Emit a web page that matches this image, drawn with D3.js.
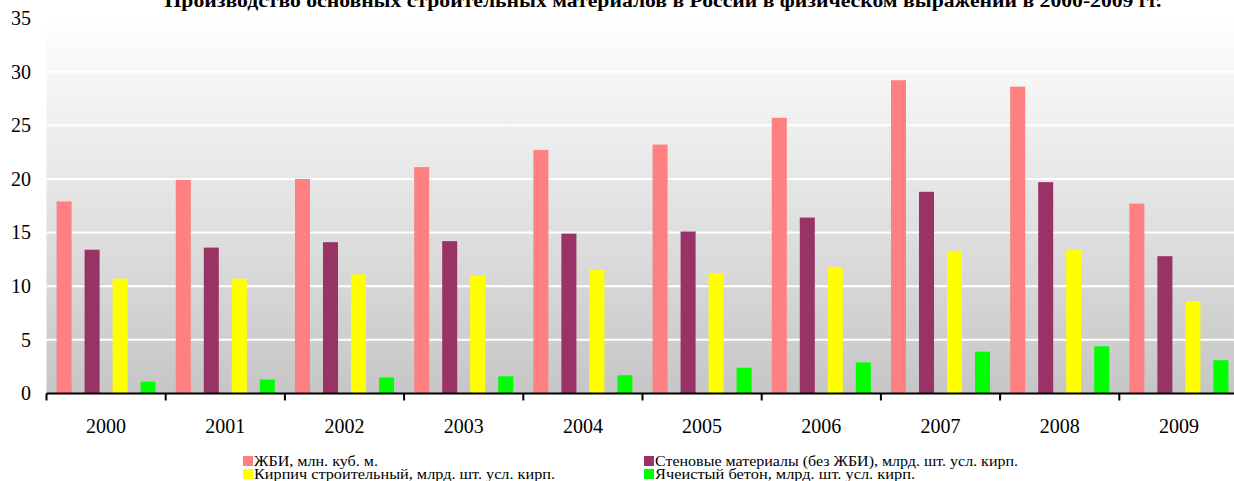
<!DOCTYPE html>
<html>
<head>
<meta charset="utf-8">
<script src="https://cdn.jsdelivr.net/npm/d3@7"></script>
<style>
  body { margin: 0; background: #fff; }
  svg text { font-family: "Liberation Serif", "Times New Roman", serif !important; }
</style>
</head>
<body>
<div id="canvas"></div>
<script>
// данные с картинки
var anos = ["2000", "2001", "2002", "2003", "2004", "2005", "2006", "2007", "2008", "2009"];
var zhbi = [17.9, 19.9, 20.0, 21.1, 22.7, 23.2, 25.7, 29.2, 28.6, 17.7];
var stenovye = [13.4, 13.6, 14.1, 14.2, 14.9, 15.1, 16.4, 18.8, 19.7, 12.8];
var kirpich = [10.7, 10.7, 11.1, 11.0, 11.5, 11.2, 11.8, 13.3, 13.4, 8.6];
var yacheisty = [1.1, 1.3, 1.5, 1.6, 1.7, 2.4, 2.9, 3.9, 4.4, 3.1];
var nombresSeries = [
    "ЖБИ, млн. куб. м.",
    "Стеновые материалы (без ЖБИ), млрд.  шт. усл. кирп.",
    "Кирпич строительный, млрд. шт. усл. кирп.",
    "Ячеистый бетон, млрд. шт. усл. кирп."
];
var ticksY = [0, 5, 10, 15, 20, 25, 30, 35];
var titulo = "Производство основных строительных материалов в России в физическом выражении в 2000-2009 гг.";

var colores = ["#FF8080", "#993366", "#FFFF00", "#00FF00"];
var valores = [zhbi, stenovye, kirpich, yacheisty];

var width = 1234;
var height = 481;
var fuente = "'Liberation Serif', 'Times New Roman', serif";

var svg = d3.select("#canvas").append("svg")
    .attr("width", width)
    .attr("height", height)
    .style("font-family", fuente);

var x0 = d3.scaleBand()
    .domain(anos)
    .range([46.5, 46.5 + 10 * 119.2])
    .paddingInner(0)
    .paddingOuter(0);

var x1 = d3.scaleBand()
    .domain([0, 1, 2, 3])
    .range([0, x0.bandwidth()])
    .paddingInner(0.464)
    .paddingOuter(0.36);

var y = d3.scaleLinear()
    .domain([0, 35])
    .range([393.5, 18]);

// fondo degradado
var defs = svg.append("defs");
var grad = defs.append("linearGradient")
    .attr("id", "fondo")
    .attr("x1", 0).attr("y1", 0)
    .attr("x2", 0).attr("y2", 1);
grad.append("stop").attr("offset", "0%").attr("stop-color", "#ffffff");
grad.append("stop").attr("offset", "100%").attr("stop-color", "#c6c6c6");

svg.append("rect")
    .attr("x", x0.range()[0])
    .attr("y", y(35))
    .attr("width", width - x0.range()[0])
    .attr("height", y(0) - y(35))
    .attr("fill", "url(#fondo)");

// líneas de la cuadrícula
svg.append("g")
    .selectAll("line")
    .data(ticksY.filter(function(d) { return d > 0 && d < 35; }))
    .enter().append("line")
    .attr("x1", x0.range()[0])
    .attr("x2", width)
    .attr("y1", function(d) { return y(d); })
    .attr("y2", function(d) { return y(d); })
    .attr("stroke", "#ffffff")
    .attr("stroke-width", 2);

// barras
var datos = [];
anos.forEach(function(a, i) {
    valores.forEach(function(serie, s) {
        datos.push({ ano: a, serie: s, valor: serie[i] });
    });
});

svg.append("g")
    .selectAll(".barra")
    .data(datos)
    .enter().append("rect")
    .attr("class", "barra")
    .attr("x", function(d) { return x0(d.ano) + x1(d.serie); })
    .attr("y", function(d) { return y(d.valor); })
    .attr("width", x1.bandwidth())
    .attr("height", function(d) { return y(0) - y(d.valor); })
    .attr("fill", function(d) { return colores[d.serie]; });

// eje Y (solo etiquetas)
var ejeY = svg.append("g")
    .attr("transform", "translate(31,0)")
    .call(d3.axisLeft(y).tickValues(ticksY).tickSize(0).tickPadding(0));
ejeY.attr("font-family", null).attr("font-size", null);
ejeY.select(".domain").remove();
ejeY.selectAll("text")
    .style("font-family", fuente)
    .style("font-size", "20px")
    .attr("fill", "#000");

// eje X
var ejeX = svg.append("g")
    .attr("transform", "translate(0," + y(0) + ")");
ejeX.append("line")
    .attr("x1", x0.range()[0])
    .attr("x2", width)
    .attr("y1", 0)
    .attr("y2", 0)
    .attr("stroke", "#000")
    .attr("stroke-width", 2);
ejeX.selectAll(".tick")
    .data(anos)
    .enter().append("line")
    .attr("class", "tick")
    .attr("x1", function(d) { return x0(d); })
    .attr("x2", function(d) { return x0(d); })
    .attr("y1", 0)
    .attr("y2", 7)
    .attr("stroke", "#000")
    .attr("stroke-width", 2);
ejeX.selectAll(".etiqueta")
    .data(anos)
    .enter().append("text")
    .attr("class", "etiqueta")
    .attr("x", function(d) { return x0(d) + x0.bandwidth() / 2; })
    .attr("y", 32)
    .attr("dy", "0.35em")
    .attr("text-anchor", "middle")
    .style("font-size", "20px")
    .text(function(d) { return d; });

// título (cortado arriba, como en el original)
svg.append("text")
    .attr("x", 663)
    .attr("y", 7)
    .attr("text-anchor", "middle")
    .style("font-size", "18px")
    .style("font-weight", "bold")
    .attr("textLength", 997)
    .attr("lengthAdjust", "spacingAndGlyphs")
    .text(titulo);

// leyenda
var posLeyenda = [
    { x: 243, y: 456, ancho: 124 },
    { x: 644, y: 456, ancho: 363 },
    { x: 243, y: 469, ancho: 301 },
    { x: 644, y: 469, ancho: 260 }
];

var leyenda = svg.append("g")
    .selectAll("g")
    .data(nombresSeries)
    .enter().append("g")
    .attr("transform", function(d, i) { return "translate(" + posLeyenda[i].x + "," + posLeyenda[i].y + ")"; });

leyenda.append("rect")
    .attr("width", 10)
    .attr("height", 10)
    .attr("fill", function(d, i) { return colores[i]; });

leyenda.append("text")
    .attr("x", 11)
    .attr("y", 10)
    .style("font-size", "14px")
    .attr("textLength", function(d, i) { return posLeyenda[i].ancho; })
    .attr("lengthAdjust", "spacingAndGlyphs")
    .text(function(d) { return d; });
</script>
</body>
</html>
